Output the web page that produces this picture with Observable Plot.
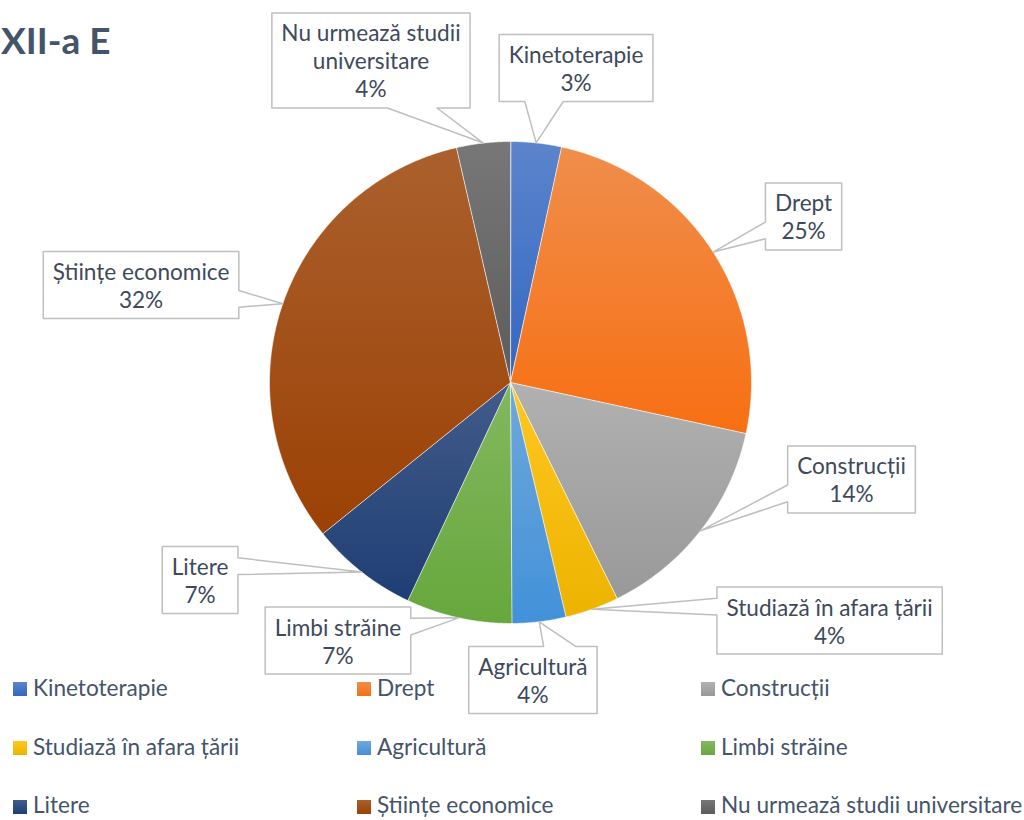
<!DOCTYPE html>
<html><head><meta charset="utf-8">
<script src="https://cdn.jsdelivr.net/npm/d3@7"></script>
<script src="https://cdn.jsdelivr.net/npm/@observablehq/plot@0.6"></script>
<style>
html,body{margin:0;padding:0;background:#fff;}
#wrap{position:relative;width:1024px;height:820px;overflow:hidden;font-family:Lato,sans-serif;}
#title{position:absolute;left:1px;top:21px;font-family:Lato,sans-serif;font-weight:bold;font-size:37px;line-height:37px;color:#44546A;white-space:nowrap;}
.sw{position:absolute;width:14px;height:14px;}
.lt{position:absolute;font-size:22.6px;line-height:22.6px;color:#44546A;white-space:nowrap;}
#wrap svg{position:absolute;left:0;top:0;}
</style></head><body>
<div id="wrap"><div id="title">XII-a E</div></div>
<script>
// ---- data ----
const categories = ["Kinetoterapie","Drept","Construcții","Studiază în afara țării","Agricultură","Limbi străine","Litere","Științe economice","Nu urmează studii universitare"];
const values = [3.4, 25, 14.3, 3.6, 3.6, 7.1, 7.2, 32.2, 3.6];
const colors = ["#4472C4","#ED7D31","#A5A5A5","#FFC000","#5B9BD5","#70AD47","#264478","#9E480E","#636363"];

// ---- layout (callout box centres, in pie-radius units, y up) ----
const calloutU = [0.272, 1.216, 1.415, 1.324, 0.093, -0.716, -1.288, -1.533, -0.579];
const calloutV = [1.305, 0.689, -0.402, -0.988, -1.234, -1.071, -0.820, 0.405, 1.336];
const calloutWrap = {"Nu urmează studii universitare": ["Nu urmează studii", "universitare"]};

const W = 1024, H = 820, CX = 510, CY = 382, R = 241;
const FONT = "Lato", FS = 22.6, LH = 28;

const fmt = d3.format(".0%");
const total = d3.sum(values);
const arcs = d3.pie().sort(null).value(d => d)(values);

// slice polygons
const slicePts = [];
arcs.forEach((a, i) => {
  const name = categories[i];
  slicePts.push({name, u: 0, v: 0});
  const n = Math.max(4, Math.ceil((a.endAngle - a.startAngle) / 0.005));
  for (let k = 0; k <= n; k++) {
    const t = a.startAngle + (a.endAngle - a.startAngle) * k / n;
    slicePts.push({name, u: Math.sin(t), v: Math.cos(t)});
  }
});

// text measurement
const ctx = document.createElement("canvas").getContext("2d");
ctx.font = `${FS}px ${FONT}`;

function calloutPolygon(cx, cy, w, h, tx, ty) { // px, y down
  const x0 = cx - w/2, x1 = cx + w/2, y0 = cy - h/2, y1 = cy + h/2;
  const inside = tx >= x0 && tx <= x1 && ty >= y0 && ty <= y1;
  const dxn = (tx - cx) / w, dyn = (ty - cy) / h;
  const side = inside ? null : Math.abs(dxn) > Math.abs(dyn) ? (dxn < 0 ? "left" : "right") : (dyn < 0 ? "top" : "bottom");
  const fx = f => x0 + w * f, fy = f => y0 + h * f;
  const xa = tx < cx ? [2/12, 5/12] : [7/12, 10/12];
  const ya = ty < cy ? [2/12, 5/12] : [7/12, 10/12];
  const p = [[x0, y0]];
  if (side === "top") p.push([fx(xa[0]), y0], [tx, ty], [fx(xa[1]), y0]);
  p.push([x1, y0]);
  if (side === "right") p.push([x1, fy(ya[0])], [tx, ty], [x1, fy(ya[1])]);
  p.push([x1, y1]);
  if (side === "bottom") p.push([fx(xa[1]), y1], [tx, ty], [fx(xa[0]), y1]);
  p.push([x0, y1]);
  if (side === "left") p.push([x0, fy(ya[1])], [tx, ty], [x0, fy(ya[0])]);
  return p;
}

const labels = [];
const calloutPts = [];
arcs.forEach((a, i) => {
  const name = categories[i];
  const lines = (calloutWrap[name] || [name]).concat([fmt(values[i] / total)]);
  const tw = d3.max(lines, l => ctx.measureText(l).width);
  const w = tw + 19, h = lines.length * LH + 11;
  const mid = (a.startAngle + a.endAngle) / 2;
  const cx = calloutU[i] * R, cy = -calloutV[i] * R;
  const tx = Math.sin(mid) * R, ty = -Math.cos(mid) * R;
  calloutPolygon(cx, cy, w, h, tx, ty).forEach(([x, y]) => calloutPts.push({name, u: x / R, v: -y / R}));
  labels.push({name, u: calloutU[i], v: calloutV[i], text: lines.join("\n")});
});

const chart = Plot.plot({
  width: W, height: H, margin: 0,
  x: {domain: [-CX / R, (W - CX) / R], axis: null},
  y: {domain: [-(H - CY) / R, CY / R], axis: null},
  color: {domain: categories, range: categories.map((_, i) => `url(#g${i})`)},
  marks: [
    Plot.line(slicePts, {x: "u", y: "v", z: "name", fill: "name", stroke: "#ffffff", strokeWidth: 1, strokeOpacity: 0.6, curve: "linear-closed"}),
    Plot.line(calloutPts, {x: "u", y: "v", z: "name", fill: "#ffffff", stroke: "#BFBFBF", strokeWidth: 1.5, curve: "linear-closed"}),
    Plot.text(labels, {x: "u", y: "v", text: "text", fontSize: FS, lineHeight: LH / FS, fontFamily: FONT, fill: "#3E4A5C", lineAnchor: "middle"})
  ]
});

const svg = d3.select(chart);
const defs = svg.insert("defs", ":first-child");
function topColor(c) { return d3.interpolateRgb(c, "#ffffff")(0.13); }
function bottomColor(c) { const h = d3.hsl(c); h.s = Math.min(1, h.s * 1.12); h.l = h.l * 0.93; return h.formatHex(); }
colors.forEach((c, i) => {
  const g = defs.append("linearGradient").attr("id", "g" + i).attr("x1", 0).attr("y1", 0).attr("x2", 0).attr("y2", 1);
  g.append("stop").attr("offset", 0).attr("stop-color", topColor(c));
  g.append("stop").attr("offset", 1).attr("stop-color", bottomColor(c));
});

const wrap = document.getElementById("wrap");
wrap.insertBefore(chart, wrap.firstChild);

// legend (row-major, 3 columns)
categories.forEach((name, i) => {
  const col = i % 3, row = Math.floor(i / 3);
  const left = 13 + col * 344, top = 682 + row * 58.8;
  const sw = document.createElement("div");
  sw.className = "sw";
  sw.style.left = left + "px"; sw.style.top = top + "px";
  sw.style.background = `linear-gradient(${topColor(colors[i])}, ${bottomColor(colors[i])})`;
  wrap.appendChild(sw);
  const t = document.createElement("div");
  t.className = "lt";
  t.style.left = (left + 20) + "px"; t.style.top = (top - 5.2) + "px";
  t.textContent = name;
  wrap.appendChild(t);
});
</script>
</body></html>
